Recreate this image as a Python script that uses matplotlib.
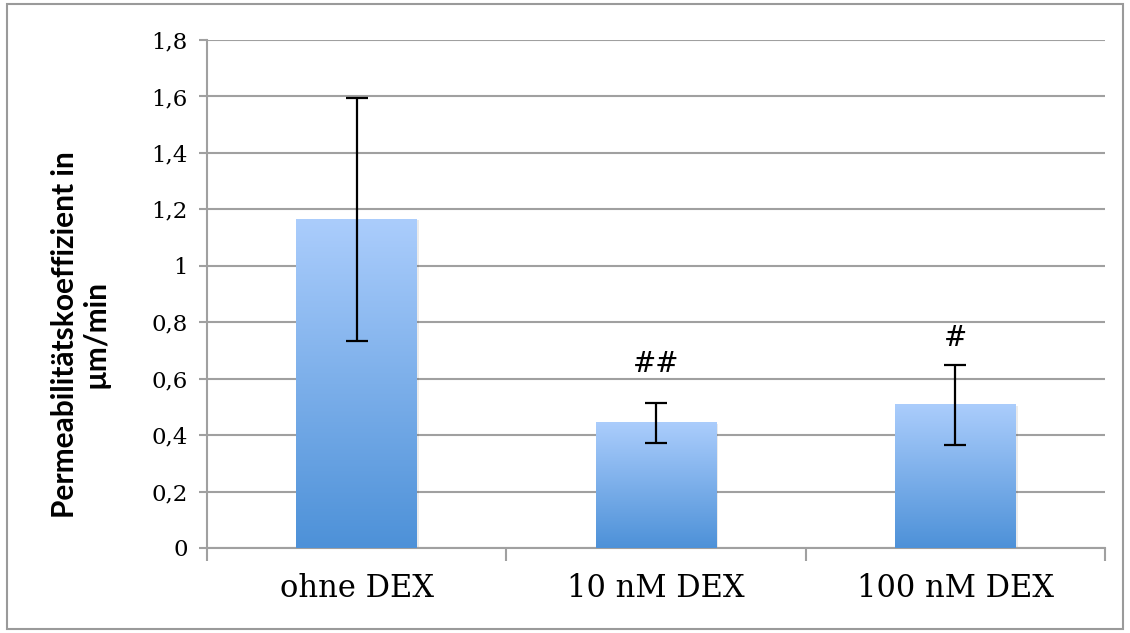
import numpy as np
import matplotlib
matplotlib.use("Agg")
import matplotlib.pyplot as plt
from matplotlib.colors import LinearSegmentedColormap
from matplotlib.ticker import FixedLocator, FuncFormatter

# data
categories = ["ohne DEX", "10 nM DEX", "100 nM DEX"]
means = [1.165, 0.443, 0.507]
errors = [0.43, 0.071, 0.142]
marks = ["", "##", "#"]
mark_levels = [0, 0.625, 0.715]

grid_col = "#A0A0A0"

fig = plt.figure(figsize=(11.3, 6.33), dpi=100)
ax = fig.add_axes([0.1832, 0.1343, 0.7947, 0.8025])

x = np.arange(len(categories))
bars = ax.bar(x, means, width=0.404, color="none", edgecolor="none", zorder=3)

# vertical gradient inside each bar
cmap = LinearSegmentedColormap.from_list("blu", ["#4D91D8", "#ABCDFC"])
grad = np.linspace(0, 1, 256).reshape(-1, 1)
for b in bars:
    x0, w, h = b.get_x(), b.get_width(), b.get_height()
    # faint shadow on the right
    ax.add_patch(plt.Rectangle((x0 + 0.006, 0), w, h - 0.004, color="#000000",
                               alpha=0.08, lw=0, zorder=2))
    ax.imshow(grad, cmap=cmap, origin="lower", aspect="auto",
              extent=(x0, x0 + w, 0, h), zorder=3)

ax.errorbar(x, means, yerr=errors, fmt="none", ecolor="black",
            elinewidth=1.6, capsize=8, capthick=1.6, zorder=4)

for xi, lvl, s in zip(x, mark_levels, marks):
    if s:
        ax.text(xi, lvl, s, ha="center", va="baseline",
                family="DejaVu Serif", fontsize=20)

ax.set_xlim(-0.5, len(categories) - 0.5)
ax.set_ylim(0, 1.8)
ax.set_yticks(np.arange(0, 1.81, 0.2))
ax.yaxis.set_major_formatter(FuncFormatter(
    lambda v, p: "0" if abs(v) < 1e-9 else ("%g" % round(v, 1)).replace(".", ",")))
ax.grid(axis="y", color=grid_col, linewidth=1.5, zorder=0)
ax.set_axisbelow(True)

ax.set_xticks(x)
ax.set_xticklabels(categories, family="DejaVu Serif", fontsize=22)
ax.xaxis.set_minor_locator(FixedLocator(np.arange(-0.5, len(categories), 1.0)))
ax.tick_params(axis="x", which="major", length=0, pad=18)
ax.tick_params(axis="x", which="minor", length=9, width=1.5, color=grid_col)
ax.tick_params(axis="y", length=6, width=1.5, color=grid_col, pad=8,
               labelsize=16.5)
for lab in ax.get_yticklabels():
    lab.set_family("DejaVu Serif")

for sp in ["top", "right"]:
    ax.spines[sp].set_visible(False)
for sp in ["left", "bottom"]:
    ax.spines[sp].set_color(grid_col)
    ax.spines[sp].set_linewidth(1.5)

fig.text(0.071, 0.472, "Permeabilitätskoeffizient in\nµm/min", rotation=90,
         ha="center", va="center", multialignment="center",
         family="Lato", fontweight="bold", fontsize=21.5, linespacing=1.1)

# thin frame around the whole chart
fig.patches.append(plt.Rectangle((0.006, 0.006), 0.988, 0.988, transform=fig.transFigure,
                                 fill=False, edgecolor="#9A9A9A", linewidth=1.5))

fig.savefig("out.png", dpi=100)
